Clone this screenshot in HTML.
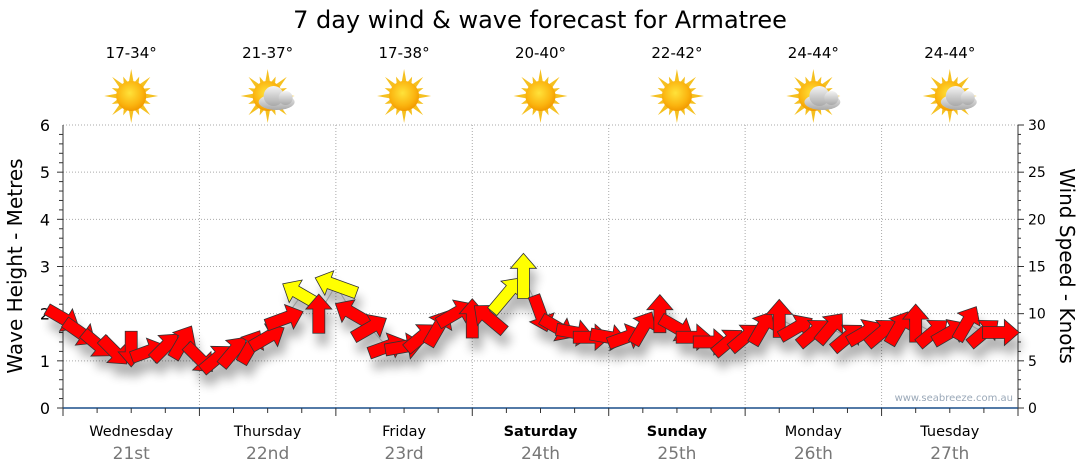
<!DOCTYPE html>
<html><head><meta charset="utf-8"><style>
body{margin:0;background:#fff;font-family:"DejaVu Sans","Liberation Sans",sans-serif;}
svg{display:block}
</style></head><body>
<svg id="chart" width="1080" height="475" viewBox="0 0 1080 475">
<defs>
<radialGradient id="sunG" cx="45%" cy="40%" r="60%"><stop offset="0" stop-color="#ffe23a"/><stop offset="0.7" stop-color="#fbb40f"/><stop offset="1" stop-color="#f29a00"/></radialGradient>
<linearGradient id="cloudG" x1="0" y1="0" x2="0" y2="1"><stop offset="0" stop-color="#f4f4f4"/><stop offset="1" stop-color="#a9a9a9"/></linearGradient>
<filter id="sh" x="-50%" y="-50%" width="200%" height="200%"><feGaussianBlur stdDeviation="5"/></filter>
</defs>
<text x="540" y="28" text-anchor="middle" font-size="24" fill="#000">7 day wind &amp; wave forecast for Armatree</text>
<g id="weather"></g>
<g id="grid"></g>
<g id="axes"></g>
<g id="shadows" filter="url(#sh)" opacity="0.3"></g>
<g id="waveline"></g>
<g id="arrows"></g>
<text x="1013" y="401" text-anchor="end" font-size="10" fill="#9aa8b8">www.seabreeze.com.au</text>
</svg>
<script>
const days=["Wednesday","Thursday","Friday","Saturday","Sunday","Monday","Tuesday"];
const dates=["21st","22nd","23rd","24th","25th","26th","27th"];
const temps=["17-34°","21-37°","17-38°","20-40°","22-42°","24-44°","24-44°"];
const cloudy=[0,1,0,0,0,1,1];
const boldDays=[0,0,0,1,1,0,0];
const waveTicks=[0,1,2,3,4,5,6];
const windTicks=[0,5,10,15,20,25,30];
// wave height (m) every 3 hours
const waveHeights=[1.9,1.6,1.35,1.2,1.25,1.2,1.3,1.4, 1.05,1.05,1.2,1.3,1.5,1.9,2.4,2.0, 2.6,2.0,1.7,1.3,1.3,1.5,1.7,2.0, 1.9,1.9,2.4,2.8,2.0,1.7,1.6,1.5, 1.5,1.5,1.7,2.0,1.7,1.5,1.4,1.4, 1.5,1.7,1.9,1.7,1.6,1.7,1.5,1.6, 1.6,1.7,1.8,1.6,1.6,1.8,1.6,1.6];
// wind direction arrow points to (degrees, 0 = right, clockwise)
const windDirs=[30,35,40,45,90,-20,-45,-60, 45,-40,-50,-60,-30,-20,-150,-90, -160,-150,-30,-20,-10,-40,-60,-30, -90,-140,-50,-90,70,30,10,0, 10,-20,-60,-90,30,0,0,-40, -40,-60,-90,-30,-40,-50,-40,-30, -40,-60,-90,-40,-30,-60,-40,0];
// wind speed (knots)
const windSpeeds=[9,9,8,8,8,8,8,9, 9,9,9,9,10,11,15,11, 15,12,10,10,10,10,11,11, 11,11,15,16,10,9,9,9, 9,9,9,10,9,8,8,8, 9,9,10,9,9,9,9,9, 9,9,10,9,9,10,9,9];
const X0=63,X1=1018,Y0=408,Y1=125,NS="http://www.w3.org/2000/svg";
const xOfT=t=>X0+(X1-X0)*t/56;
const yW=v=>Y0-(Y0-Y1)*v/6;
const yK=v=>Y0-(Y0-Y1)*v/30;
function mk(tag,attrs,parent){const e=document.createElementNS(NS,tag);for(const k in attrs)e.setAttribute(k,attrs[k]);parent.appendChild(e);return e;}
const grid=document.getElementById('grid'),axes=document.getElementById('axes'),wx=document.getElementById('weather');
waveTicks.forEach(v=>{
 if(v>0){const l=mk('line',{x1:X0,x2:X1,y1:yW(v),y2:yW(v),stroke:'#aaa','stroke-dasharray':'1,2'},grid);
 
 }
 const t=mk('text',{x:50,y:yW(v)+6,'text-anchor':'end','font-size':16,fill:'#000'},axes);t.textContent=v;
 
 
});
for(let v=0;v<=6;v+=0.2){const y=yW(v);mk('line',{x1:X0-(Math.abs(v-Math.round(v))<0.01?6:4),x2:X0,y1:y,y2:y,stroke:'#333'},axes);}
windTicks.forEach(v=>{
 const t=mk('text',{x:1028,y:yK(v)+5,'font-size':14,fill:'#000'},axes);t.textContent=v;
 
 
});
for(let v=0;v<=30;v+=1){const y=yK(v);mk('line',{x1:X1,x2:X1+(v%5==0?6:3),y1:y,y2:y,stroke:'#333'},axes);}
mk('line',{x1:X0,x2:X0,y1:Y1,y2:Y0,stroke:'#333'},axes);
mk('line',{x1:X1,x2:X1,y1:Y1,y2:Y0,stroke:'#333'},axes);
mk('line',{x1:X0,x2:X1,y1:Y0,y2:Y0,stroke:'#1a4f8a','stroke-width':1.5},axes);
for(let t=0;t<=56;t+=2){const x=xOfT(t);mk('line',{x1:x,x2:x,y1:Y0,y2:Y0+(t%8==0?8:5),stroke:'#333'},axes);}
days.forEach((d,i)=>{
 const xc=xOfT(i*8+4);
 if(i>0){const l=mk('line',{x1:xOfT(i*8),x2:xOfT(i*8),y1:Y1,y2:Y0,stroke:'#aaa','stroke-dasharray':'1,2'},grid);
 
 }
 const a=mk('text',{x:xc,y:436,'text-anchor':'middle','font-size':14.5,fill:'#000','font-weight':boldDays[i]?'bold':'normal'},axes);a.textContent=d;
 
 
 const b=mk('text',{x:xc,y:459,'text-anchor':'middle','font-size':17,fill:'#777'},axes);b.textContent=dates[i];
 
 
 const tt=mk('text',{x:xc,y:58,'text-anchor':'middle','font-size':15,fill:'#000'},wx);tt.textContent=temps[i];
 
 
 const g=mk('g',{transform:`translate(${xc},96)`},wx);
 
 
 for(let k=0;k<16;k++){const ang=k*22.5*Math.PI/180,r=k%2?21:27;
  mk('polygon',{points:`${Math.cos(ang)*r},${Math.sin(ang)*r} ${Math.cos(ang+0.2)*13},${Math.sin(ang+0.2)*13} ${Math.cos(ang-0.2)*13},${Math.sin(ang-0.2)*13}`,fill:'#f5c020'},g);}
 mk('circle',{cx:0,cy:0,r:15,fill:'url(#sunG)'},g);
 if(cloudy[i]){const c=mk('g',{transform:'translate(9,2)'},g);
  mk('ellipse',{cx:0,cy:4,rx:18,ry:8,fill:'url(#cloudG)'},c);
  mk('circle',{cx:-3,cy:-2,r:10,fill:'url(#cloudG)'},c);
  mk('circle',{cx:9,cy:0,r:7,fill:'url(#cloudG)'},c);}
});
const lab1=mk('text',{x:0,y:0,'text-anchor':'middle','font-size':20,transform:`translate(22,266) rotate(-90)`},axes);lab1.textContent='Wave Height - Metres';


const lab2=mk('text',{x:0,y:0,'text-anchor':'middle','font-size':20,transform:`translate(1060,266) rotate(90)`},axes);lab2.textContent='Wind Speed - Knots';


// wave line
const pts=waveHeights.map((v,i)=>`${xOfT(i)},${yW(v)}`).join(' ');
const wl=mk('polyline',{points:pts,fill:'none',stroke:'#999','stroke-width':1},document.getElementById('waveline'));


// arrows
const ag=document.getElementById('arrows'),sg=document.getElementById('shadows');
waveHeights.forEach((v,i)=>{
 const s=windSpeeds[i],L=26+s*1.2;
 const p=`${-L/2},-6 ${L/2-15},-6 ${L/2-15},-13 ${L/2},0 ${L/2-15},13 ${L/2-15},6 ${-L/2},6`;
 const x=xOfT(i),y=yW(v);
 mk('polygon',{points:p,fill:'#000',transform:`translate(${x+4},${y+12}) rotate(${windDirs[i]})`},sg);
 const a=mk('polygon',{points:p,fill:s>=14?'#ffff00':'#ff0000',stroke:'#333','stroke-width':0.8,transform:`translate(${x},${y}) rotate(${windDirs[i]})`},ag);
 
 
});
</script>
</body></html>
